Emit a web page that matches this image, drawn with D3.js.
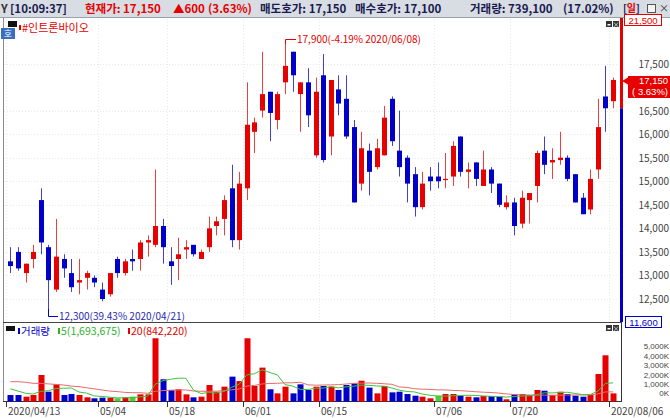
<!DOCTYPE html>
<html>
<head>
<meta charset="utf-8">
<script src="https://cdn.jsdelivr.net/npm/d3@7"></script>
<style>
  body { margin: 0; background: #fff; }
  svg { display: block; font-family: "Noto Sans CJK KR", "Noto Sans", sans-serif; }
</style>
</head>
<body>
<div id="chart"></div>
<script>
// trading days shown (2020/04/13 .. 2020/08/06)
const dates = [
  '2020/04/13','2020/04/14','2020/04/16','2020/04/17','2020/04/20','2020/04/21','2020/04/22','2020/04/23','2020/04/24','2020/04/27',
  '2020/04/28','2020/04/29','2020/05/04','2020/05/06','2020/05/07','2020/05/08','2020/05/11','2020/05/12','2020/05/13','2020/05/14',
  '2020/05/15','2020/05/18','2020/05/19','2020/05/20','2020/05/21','2020/05/22','2020/05/25','2020/05/26','2020/05/27','2020/05/28',
  '2020/05/29','2020/06/01','2020/06/02','2020/06/03','2020/06/04','2020/06/05','2020/06/08','2020/06/09','2020/06/10','2020/06/11',
  '2020/06/12','2020/06/15','2020/06/16','2020/06/17','2020/06/18','2020/06/19','2020/06/22','2020/06/23','2020/06/24','2020/06/25',
  '2020/06/26','2020/06/29','2020/06/30','2020/07/01','2020/07/02','2020/07/03','2020/07/06','2020/07/07','2020/07/08','2020/07/09',
  '2020/07/10','2020/07/13','2020/07/14','2020/07/15','2020/07/16','2020/07/17','2020/07/20','2020/07/21','2020/07/22','2020/07/23',
  '2020/07/24','2020/07/27','2020/07/28','2020/07/29','2020/07/30','2020/07/31','2020/08/03','2020/08/04','2020/08/05','2020/08/06'
]

const open = [
  13300,13500,13050,13350,14600,13600,12700,13350,13050,12850,
  12950,12950,12700,12600,13350,13050,13350,13350,13700,13650,
  14050,13300,13350,13550,13650,13350,13600,14050,14200,14850,
  13750,14850,16050,16500,16900,16300,17100,17750,16850,17100,
  15550,17250,15950,16950,16750,16150,14950,15650,15300,15550,
  16750,15650,15500,15150,14450,15100,15100,15050,15100,15950,
  15200,15400,14900,15250,14950,14450,14550,14100,14600,14900,
  15650,15400,15450,15500,15150,14650,14400,15250,16800,16700
]
const high = [
  13600,13600,13250,13650,14850,13650,14200,13450,13350,13350,
  13100,13000,12850,13050,13400,13350,13550,13750,13850,15250,
  14200,13600,13800,13750,13650,13550,14250,14250,14700,15350,
  15200,17100,16350,17750,16900,16900,17900,17750,17100,17400,
  17200,17700,17150,17250,17250,16300,16050,15800,15900,16600,
  16800,16500,15550,15300,15200,15300,15400,15600,15850,15950,
  15400,15400,15650,15300,14950,14700,14650,14800,14750,15650,
  15950,15700,16050,15550,15150,14750,15250,16750,17450,17200
]
const low = [
  13050,13100,12850,13150,13450,12300,12650,12950,12650,12600,
  12700,12750,12450,12550,12950,13000,13100,13100,13400,13600,
  13250,12800,12900,13350,13400,13350,13500,13850,13850,13600,
  13550,14600,15600,16350,15850,16100,16850,16900,16050,16150,
  15500,15400,15550,16400,15900,14550,14800,14700,15250,15550,
  15750,15100,14550,14250,14400,14800,14850,14850,14900,15100,
  14850,14900,14900,14750,14450,14400,13850,14000,14100,14550,
  15150,15050,15350,15000,14550,14300,14300,15050,16050,16550
]
const close = [
  13200,13150,13250,13500,13700,12900,13400,13150,12750,12900,
  13050,12850,12500,13050,13050,13300,13300,13700,13750,14050,
  13600,13200,13450,13600,13450,13500,14000,14150,14600,13750,
  14950,16200,16250,16850,16450,16850,17450,17250,17100,16400,
  16900,15450,17150,16650,15950,14550,15700,15200,15700,16350,
  15850,15300,14950,14450,14950,15000,15000,15050,15750,15200,
  15250,15050,15250,14950,14500,14550,14050,14650,14750,15600,
  15350,15450,15500,15050,14550,14300,15050,16150,16550,17150
]
// close of 2020/04/10 (first volume bar is drawn as a down day)
const prevClose = 13300

// volume, thousand shares
const volume = [
  590,590,440,590,2410,890,1560,590,680,590,
  380,290,350,350,290,380,440,650,650,5750,
  2020,1050,1110,650,380,440,1500,890,1350,2260,
  1860,5750,1410,3080,1110,740,1350,740,1560,1050,
  1350,1410,1350,1050,1500,1650,1890,1260,740,1410,
  830,890,680,530,440,290,530,680,680,530,
  440,380,500,500,440,200,650,680,590,1050,
  980,590,890,680,530,440,590,2500,4200,739
]
// moving-average values before the window is full
const ma5Lead = [1150, 950, 750, 680]
const ma20Lead = [1800,1800,1750,1650,1650,1600,1550,1500,1400,1350,1250,1150,1050,950,900,830,800,800,750]

// 17,000 sits under the current-price box, so it is not labelled
const priceTicks = [12500, 13000, 13500, 14000, 14500, 15000, 15500, 16000, 16500, 17500]
const volTicks = [0, 1000, 2000, 3000, 4000, 5000]
const tickDates = ['2020/04/13', '2020/05/04', '2020/05/18', '2020/06/01', '2020/06/15', '2020/07/06', '2020/07/20', '2020/08/06']

const red = '#e60000', blue = '#0000c8', green = '#55c83a'
const num = '"Liberation Sans", Arial, sans-serif'

const n = dates.length
const ma = (k, lead) => volume.map((v, i) => i < k - 1 ? lead[i] : d3.mean(volume.slice(i - k + 1, i + 1)))
const ma5 = ma(5, ma5Lead)
const ma20 = ma(20, ma20Lead)

const x = d3.scaleBand().domain(d3.range(n)).range([6.5, 616.9]).paddingInner(0.32).paddingOuter(0.16)
const cx = i => x(i) + x.bandwidth() / 2
const slot = i => x(i) - x.step() * 0.16
const y = d3.scaleLinear().domain([12500, 17500]).range([299, 63.5])
const yv = d3.scaleLinear().domain([0, 5000]).range([401.5, 346.5])
const yvLabel = d3.scaleLinear().domain([0, 5000]).range([393, 346])

const svg = d3.select('#chart').append('svg').attr('width', 670).attr('height', 418)

// ---- header bar
svg.append('rect').attr('width', 670).attr('height', 18).attr('fill', '#d8dce3')
svg.append('line').attr('x1', 0).attr('x2', 670).attr('y1', 17.5).attr('y2', 17.5).attr('stroke', '#9aa0aa')
const head = [
  { t: 'Y', x: 1, c: '#333' },
  { t: '[10:09:37]', x: 10, c: '#1a1a50' },
  { t: '현재가: 17,150', x: 85, c: red },
  { t: '▲600', x: 173, c: red },
  { t: '(3.63%)', x: 208, c: red },
  { t: '매도호가: 17,150', x: 260, c: '#1a1a50' },
  { t: '매수호가: 17,100', x: 355, c: '#1a1a50' },
  { t: '거래량: 739,100', x: 470, c: '#1a1a50' },
  { t: '(17.02%)', x: 563, c: '#1a1a50' }
]
svg.append('g').selectAll('text').data(head).enter().append('text')
  .attr('x', d => d.x).attr('y', 13)
  .attr('font-size', 11.5).attr('font-weight', 'bold')
  .attr('fill', d => d.c).text(d => d.t)
const day = svg.append('text').attr('x', 623).attr('y', 11.5).attr('font-size', 10).attr('font-weight', 'bold').attr('fill', '#1a1a50')
day.append('tspan').text('[')
day.append('tspan').attr('fill', red).text('일')
day.append('tspan').text(']')
svg.append('rect').attr('x', 647.5).attr('y', 4.5).attr('width', 8).attr('height', 8).attr('fill', '#f4f4f4').attr('stroke', '#555')
svg.append('text').attr('x', 659).attr('y', 12).attr('font-size', 10).attr('fill', '#333').text('×')

// ---- grid
const grid = svg.append('g').attr('stroke', '#e9e9e9').attr('stroke-dasharray', '1,2')
grid.selectAll('.hg').data(priceTicks).enter().append('line')
  .attr('x1', 4).attr('x2', 619).attr('y1', d => Math.round(y(d)) + 0.5).attr('y2', d => Math.round(y(d)) + 0.5)
grid.selectAll('.vg').data(tickDates).enter().append('line')
  .attr('x1', d => Math.round(slot(dates.indexOf(d))) + 0.5).attr('x2', d => Math.round(slot(dates.indexOf(d))) + 0.5)
  .attr('y1', 19).attr('y2', 321)

// ---- frames
svg.append('line').attr('x1', 3.5).attr('x2', 3.5).attr('y1', 18).attr('y2', 402).attr('stroke', '#8c8c8c')
svg.append('line').attr('x1', 3).attr('x2', 622).attr('y1', 322.5).attr('y2', 322.5).attr('stroke', '#444')
svg.append('line').attr('x1', 621.5).attr('x2', 621.5).attr('y1', 322).attr('y2', 402).attr('stroke', '#333')
svg.append('line').attr('x1', 3).attr('x2', 622).attr('y1', 401.5).attr('y2', 401.5).attr('stroke', '#333')
// price range bar: upper limit .. previous close .. lower limit
svg.append('rect').attr('x', 620).attr('y', 18).attr('width', 3).attr('height', y(16550) - 18).attr('fill', red)
svg.append('rect').attr('x', 620).attr('y', y(16550)).attr('width', 3).attr('height', 322 - y(16550)).attr('fill', blue)

// ---- candles
const candle = svg.append('g').selectAll('g').data(d3.range(n)).enter().append('g')
  .attr('fill', i => close[i] >= open[i] ? red : blue)
  .attr('stroke', i => close[i] >= open[i] ? red : blue)
candle.append('line')
  .attr('x1', i => Math.round(cx(i)) + 0.5).attr('x2', i => Math.round(cx(i)) + 0.5)
  .attr('y1', i => y(high[i])).attr('y2', i => y(low[i]))
  .attr('stroke-opacity', 0.75)
candle.append('rect')
  .attr('stroke', 'none')
  .attr('x', i => Math.round(cx(i)) - 2)
  .attr('width', 5)
  .attr('y', i => y(Math.max(open[i], close[i])))
  .attr('height', i => Math.max(1.2, Math.abs(y(open[i]) - y(close[i]))))

// ---- price annotations
const hi = dates.indexOf('2020/06/08'), lo = dates.indexOf('2020/04/21')
svg.append('path').attr('fill', 'none').attr('stroke', red)
  .attr('d', `M${Math.round(cx(hi)) + 0.5},${y(high[hi])}V39.5H296`)
svg.append('text').attr('x', 297).attr('y', 43).attr('font-size', 10).attr('fill', red)
  .text('17,900(-4.19% 2020/06/08)')
svg.append('path').attr('fill', 'none').attr('stroke', blue)
  .attr('d', `M${Math.round(cx(lo)) + 0.5},${y(low[lo])}V316.5H58`)
svg.append('text').attr('x', 59).attr('y', 320).attr('font-size', 10).attr('fill', '#2a2ab0')
  .text('12,300(39.43% 2020/04/21)')

// ---- price legend
svg.append('rect').attr('x', 8).attr('y', 21).attr('width', 9).attr('height', 6).attr('fill', '#111')
svg.append('rect').attr('x', 19).attr('y', 25).attr('width', 2).attr('height', 5).attr('fill', red)
svg.append('text').attr('x', 22).attr('y', 32).attr('font-size', 11).attr('fill', red).text('#인트론바이오')
svg.append('rect').attr('x', 1).attr('y', 28).attr('width', 14).attr('height', 11).attr('fill', '#3a6fc0')
svg.append('text').attr('x', 8).attr('y', 37).attr('font-size', 9).attr('fill', '#fff').attr('text-anchor', 'middle').text('호')
const btn = (bx, by) => {
  svg.append('rect').attr('x', bx).attr('y', by).attr('width', 6).attr('height', 6).attr('fill', '#333')
  svg.append('rect').attr('x', bx + 7).attr('y', by).attr('width', 6).attr('height', 6).attr('fill', '#333')
  svg.append('rect').attr('x', bx + 1.5).attr('y', by + 3).attr('width', 3).attr('height', 1.5).attr('fill', '#fff')
  svg.append('text').attr('x', bx + 10).attr('y', by + 5.5).attr('font-size', 7).attr('fill', '#fff').attr('text-anchor', 'middle').text('×')
}
btn(606, 21)
btn(606, 325)

// ---- price axis
const pAxis = svg.append('g').attr('transform', 'translate(622,0)')
  .call(d3.axisRight(y).tickValues(priceTicks).tickSize(0).tickFormat(d3.format(',')))
pAxis.select('.domain').remove()
pAxis.selectAll('text').attr('x', 47).attr('dy', '0.35em').attr('text-anchor', 'end')
  .attr('font-family', '"Noto Sans CJK KR", sans-serif').attr('font-size', 10).attr('fill', '#444')

// limit boxes and current price
svg.append('rect').attr('x', 624.5).attr('y', 14.5).attr('width', 37).attr('height', 11).attr('fill', '#fff').attr('stroke', red)
svg.append('text').attr('x', 643).attr('y', 23.5).attr('font-family', num).attr('font-size', 9.5).attr('fill', red).attr('text-anchor', 'middle').text('21,500')
svg.append('rect').attr('x', 625.5).attr('y', 316.5).attr('width', 36).attr('height', 11).attr('fill', '#fff').attr('stroke', blue)
svg.append('text').attr('x', 643.5).attr('y', 325.5).attr('font-family', num).attr('font-size', 9.5).attr('fill', blue).attr('text-anchor', 'middle').text('11,600')
const yc = y(close[n - 1])
svg.append('rect').attr('x', 628).attr('y', yc - 4).attr('width', 42).attr('height', 22).attr('fill', red)
svg.append('path').attr('fill', red).attr('d', `M622,${yc + 1}L628,${yc - 2.5}V${yc + 4.5}Z`)
svg.append('text').attr('x', 668).attr('y', yc + 4.5).attr('font-family', num).attr('font-size', 9.5).attr('fill', '#fff').attr('text-anchor', 'end').text('17,150')
svg.append('text').attr('x', 668).attr('y', yc + 15.5).attr('font-family', num).attr('font-size', 9.5).attr('fill', '#fff').attr('text-anchor', 'end').text('( 3.63%)')

// ---- volume
const volColor = i => {
  const pc = i === 0 ? prevClose : close[i - 1]
  return close[i] > pc ? red : close[i] < pc ? blue : green
}
svg.append('g').selectAll('rect').data(d3.range(n)).enter().append('rect')
  .attr('x', i => Math.round(cx(i)) - 2.5)
  .attr('width', 6)
  .attr('y', i => yv(volume[i]))
  .attr('height', i => yv(0) - yv(volume[i]))
  .attr('fill', volColor)

const line = d3.line().x((d, i) => cx(i)).y(d => yv(d))
svg.append('path').datum(ma20).attr('d', line).attr('fill', 'none').attr('stroke', '#e86a6a').attr('stroke-width', 1)
svg.append('path').datum(ma5).attr('d', line).attr('fill', 'none').attr('stroke', '#3cc43c').attr('stroke-width', 1)

// volume legend
svg.append('rect').attr('x', 6).attr('y', 326).attr('width', 9).attr('height', 5).attr('fill', '#111')
const vLeg = [
  { t: '거래량', x: 21, c: blue },
  { t: '5(1,693,675)', x: 61, c: '#2ab42a' },
  { t: '20(842,220)', x: 131, c: red }
]
const vl = svg.append('g').selectAll('g').data(vLeg).enter().append('g')
vl.append('rect').attr('x', d => d.x - 3).attr('y', 328).attr('width', 2).attr('height', 6).attr('fill', d => d.c)
vl.append('text').attr('x', d => d.x).attr('y', 335).attr('font-size', 10.5).attr('fill', d => d.c).text(d => d.t)

// volume axis (labels are packed tighter than the bars' scale)
const vAxis = svg.append('g').attr('transform', 'translate(622,0)')
  .call(d3.axisRight(yvLabel).tickValues(volTicks).tickSize(0).tickFormat(d => d3.format(',')(d) + 'K'))
vAxis.select('.domain').remove()
vAxis.selectAll('text').attr('x', 47).attr('dy', '0.35em').attr('text-anchor', 'end')
  .attr('font-family', num).attr('font-size', 8).attr('fill', '#444')

// ---- date axis
const dAxis = svg.append('g').selectAll('g').data(tickDates).enter().append('g')
  .attr('transform', d => 'translate(' + (Math.round(slot(dates.indexOf(d))) + 0.5) + ',0)')
dAxis.append('line').attr('y1', 401.5).attr('y2', 407).attr('stroke', '#333')
dAxis.append('text').attr('x', 1.5).attr('y', 414.5).attr('font-size', 10).attr('fill', '#444')
  .text((d, i) => i === 0 || i === tickDates.length - 1 ? d : d.slice(5))
</script>
</body>
</html>
